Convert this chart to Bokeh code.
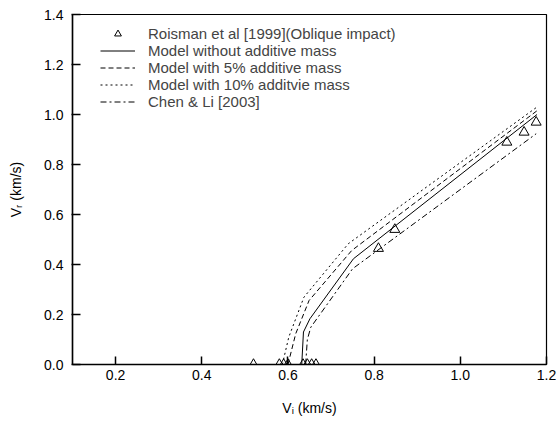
from bokeh.plotting import figure
from bokeh.models import Range1d, FixedTicker, PrintfTickFormatter, Legend, LegendItem
from bokeh.embed import file_html
from bokeh.resources import INLINE

# ---- data ----
exp_x = [0.52, 0.58, 0.59, 0.60, 0.635, 0.645, 0.655, 0.665, 0.81, 0.848, 1.108, 1.148, 1.176]
exp_y = [0.0, 0.0, 0.0, 0.0, 0.0, 0.0, 0.0, 0.0, 0.464, 0.54, 0.889, 0.929, 0.969]

m0_x = [0.632, 0.636, 0.651, 0.752, 1.178]
m0_y = [0.0, 0.13, 0.183, 0.423, 1.0]

m5_x = [0.600, 0.618, 0.649, 0.748, 1.178]
m5_y = [0.0, 0.123, 0.256, 0.456, 1.015]

m10_x = [0.587, 0.602, 0.637, 0.740, 1.178]
m10_y = [0.0, 0.11, 0.269, 0.483, 1.03]

cl_x = [0.641, 0.645, 0.653, 0.750, 1.176]
cl_y = [0.0, 0.10, 0.149, 0.383, 0.923]

x_ticks = [0.2, 0.4, 0.6, 0.8, 1.0, 1.2]
y_ticks = [0.0, 0.2, 0.4, 0.6, 0.8, 1.0, 1.2, 1.4]

labels = ["Roisman et al [1999](Oblique impact)",
          "Model without additive mass",
          "Model with 5% additive mass",
          "Model with 10% additvie mass",
          "Chen & Li [2003]"]

x_title = "V\u1d62 (km/s)"
y_title = "V\u1d63 (km/s)"

FONT = "Liberation Sans"

FW, FH = 474, 350
LB, RB, TB, BB = 72, 12, 14, 62

p = figure(width=LB + FW + RB, height=TB + FH + BB,
           x_range=Range1d(0.1, 1.2), y_range=Range1d(0.0, 1.4),
           output_backend="svg", toolbar_location=None,
           min_border_left=LB, min_border_right=RB,
           min_border_top=TB, min_border_bottom=BB)
p.grid.visible = False
p.outline_line_color = "black"
p.outline_line_width = 1.2
p.outline_line_alpha = 1
p.background_fill_color = "white"
p.border_fill_color = "white"

for ax in (p.xaxis[0], p.yaxis[0]):
    ax.axis_line_color = "black"
    ax.axis_line_width = 1.5
    ax.major_tick_line_color = "black"
    ax.major_tick_line_width = 1.5
    ax.minor_tick_line_color = None
    ax.major_label_text_font = FONT
    ax.major_label_text_font_size = "14px"
    ax.major_label_text_color = "black"
    ax.axis_label_text_font = FONT
    ax.axis_label_text_font_size = "14px"
    ax.axis_label_text_font_style = "normal"
    ax.axis_label_text_color = "black"
    ax.formatter = PrintfTickFormatter(format="%.1f")

p.xaxis[0].axis_label = x_title
p.yaxis[0].axis_label = y_title
p.xaxis[0].axis_label_standoff = 17
p.yaxis[0].axis_label_standoff = 17

p.xaxis[0].ticker = FixedTicker(ticks=x_ticks)
p.yaxis[0].ticker = FixedTicker(ticks=y_ticks)
p.xaxis[0].major_tick_in = 8
p.xaxis[0].major_tick_out = 0
p.xaxis[0].major_label_standoff = 5
p.yaxis[0].major_tick_in = 8
p.yaxis[0].major_tick_out = 1
p.yaxis[0].major_label_standoff = 8

r_exp = p.scatter(exp_x, exp_y, marker="triangle", size=10,
                  line_color="black", line_width=1, fill_alpha=0)
r0 = p.line(m0_x, m0_y, line_color="black", line_width=1)
r5 = p.line(m5_x, m5_y, line_color="black", line_width=1, line_dash="5 3")
r10 = p.line(m10_x, m10_y, line_color="black", line_width=1, line_dash="2 3")
rcl = p.line(cl_x, cl_y, line_color="black", line_width=1, line_dash="6 3 2 3")

legend = Legend(items=[LegendItem(label=labels[0], renderers=[r_exp]),
                       LegendItem(label=labels[1], renderers=[r0]),
                       LegendItem(label=labels[2], renderers=[r5]),
                       LegendItem(label=labels[3], renderers=[r10]),
                       LegendItem(label=labels[4], renderers=[rcl])],
                location=(28, 254), padding=0, margin=0, spacing=0,
                glyph_width=35, glyph_height=17, label_height=17,
                label_standoff=13,
                label_text_font=FONT, label_text_font_size="15px",
                border_line_color=None, background_fill_alpha=0)
p.add_layout(legend)

open("out.html", "w").write(file_html(p, INLINE))
